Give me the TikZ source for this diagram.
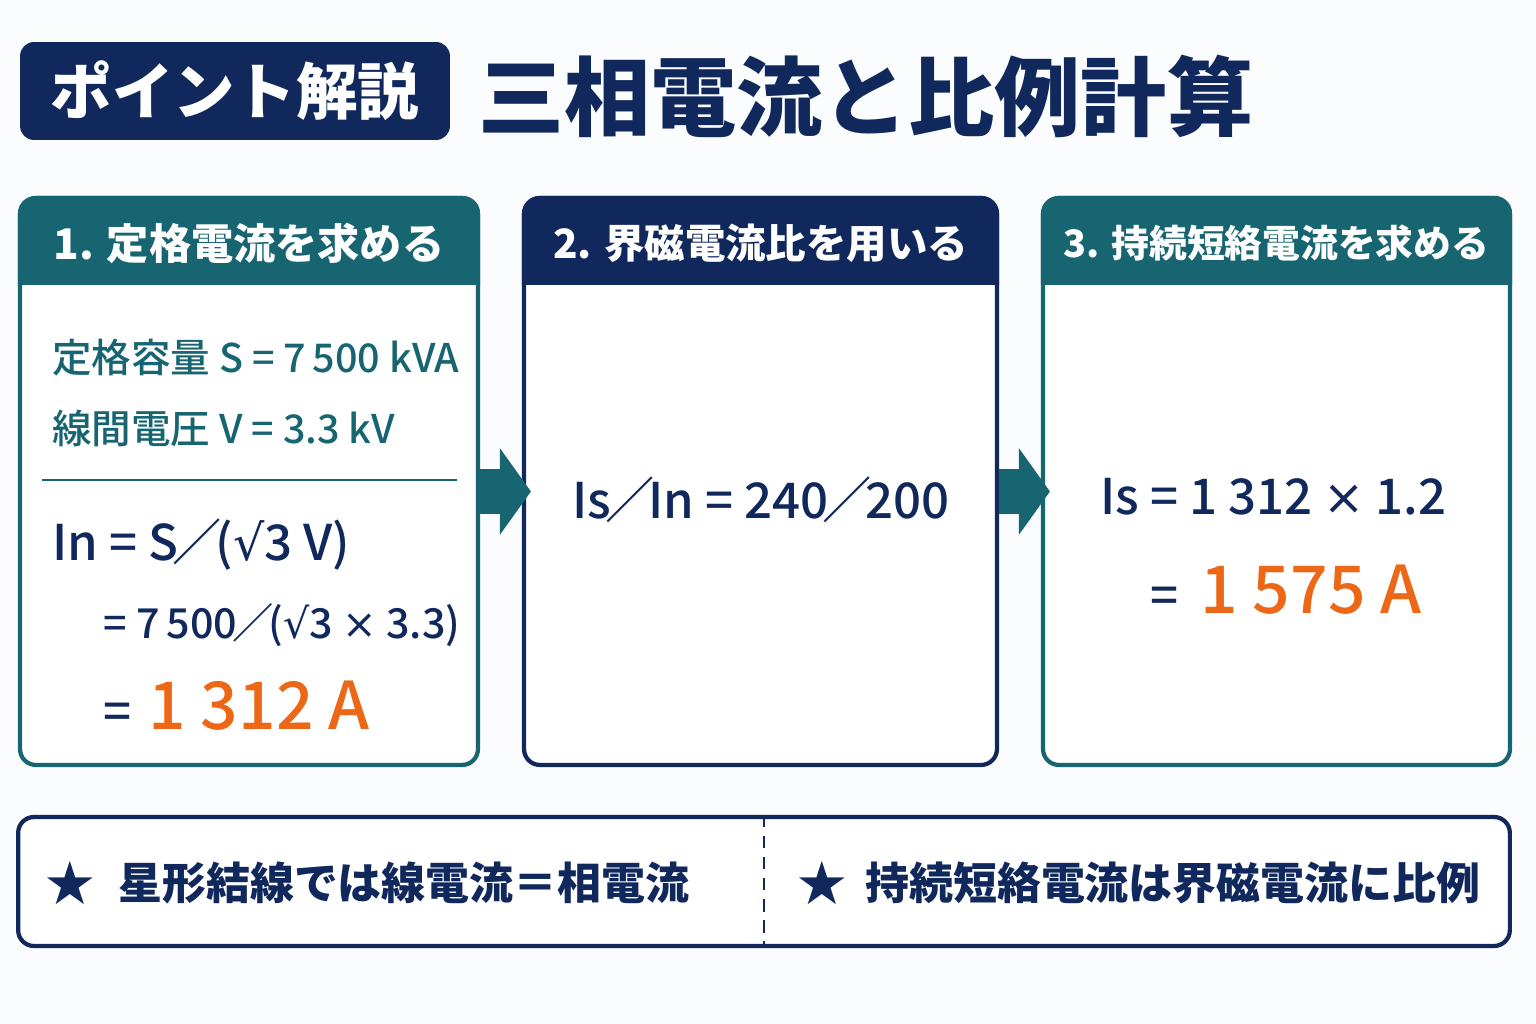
\documentclass[tikz,border=0pt]{standalone}
\usepackage{fontspec}
\setmainfont{Noto Sans CJK JP}
\newfontfamily\medfont{Noto Sans CJK JP Medium}
\newfontfamily\symfont{DejaVu Sans}
\usetikzlibrary{arrows.meta, positioning, calc}
\definecolor{navyblue}{RGB}{16,40,92}
\definecolor{tealblue}{RGB}{22,101,112}
\definecolor{resultorange}{RGB}{236,104,22}
\definecolor{pagebg}{RGB}{251,252,253}

\tikzset{
  stepbox/.style={rectangle, rounded corners=9pt, line width=2.4pt, fill=white, minimum height=11.34cm},
  headtext/.style={text=white, inner sep=0pt, font=\bfseries\fontsize{#1}{28}\selectfont},
  given/.style={anchor=west, inner sep=0pt, text=tealblue, font=\medfont\fontsize{22.5}{26}\selectfont},
  formula/.style={anchor=west, inner sep=0pt, text=navyblue, font=\medfont\fontsize{#1}{34}\selectfont},
  formula/.default=28,
  flowarrow/.style={tealblue, line width=0.9cm, -{Triangle[length=0.62cm, width=1.7cm]}, shorten >=-0.18cm},
  notetext/.style={anchor=west, inner sep=0pt, text=navyblue, font=\bfseries\fontsize{25}{28}\selectfont},
  starmark/.style={inner sep=0pt, text=navyblue, font=\symfont\fontsize{34}{36}\selectfont}
}
\newcommand{\resultval}[1]{{\color{resultorange}\fontsize{37.5}{42}\selectfont #1}}
\newcommand{\fslash}{\hspace{-0.12em}／\hspace{-0.12em}}
\newcommand{\rootmark}{{\symfont √}}
\newcommand{\crossmark}{{\symfont ×}}

\begin{document}
\begin{tikzpicture}[x=0.02cm, y=-0.02cm]
  \useasboundingbox (0,0) rectangle (1536,1024);
  \fill[pagebg] (0,0) rectangle (1536,1024);

  % Title
  \node[fill=navyblue, rounded corners=8pt, minimum width=8.6cm, minimum height=1.96cm,
    text=white, font=\bfseries\fontsize{35}{38}\selectfont] (badge) at (235,91) {ポイント解説};
  \node[anchor=west, inner sep=0pt, text=navyblue, font=\bfseries\fontsize{49}{52}\selectfont]
    (title) at (478,96) {三相電流と比例計算};

  % Step boxes
  \node[stepbox, draw=tealblue, minimum width=9.16cm] (rated) at (249,481.5) {};
  \node[stepbox, draw=navyblue, minimum width=9.46cm] (ratio) at (760.5,481.5) {};
  \node[stepbox, draw=tealblue, minimum width=9.34cm] (short) at (1276.5,481.5) {};

  % Header bands
  \foreach \b/\c in {rated/tealblue, ratio/navyblue, short/tealblue}
    \fill[\c] ([yshift=-1.78cm]\b.north west) [rounded corners=10pt] -- (\b.north west)
      -- (\b.north east) [sharp corners] -- ([yshift=-1.78cm]\b.north east) -- cycle;
  \node[headtext=24] (rated head) at ([yshift=-0.95cm]rated.north) {1. 定格電流を求める};
  \node[headtext=23] (ratio head) at ([yshift=-0.95cm]ratio.north) {2. 界磁電流比を用いる};
  \node[headtext=21.5] (short head) at ([yshift=-0.95cm]short.north) {3. 持続短絡電流を求める};

  % Step 1: rated current
  \node[given] (capacity) at (52,358) {定格容量 S = 7\,500 kVA};
  \node[given] (voltage) at (52,428) {線間電圧 V = 3.3 kV};
  \draw[tealblue, line width=1.6pt] (42,480) -- (457,480);
  \node[formula] (in def) at (52,545) {In = S\fslash(\rootmark 3 V)};
  \node[formula=23.5] (in num) at (103,625) {= 7\,500\fslash(\rootmark 3 \crossmark\ 3.3)};
  \node[formula] (in val) at (103,706) {=\hspace{0.35em}\resultval{1 312 A}};

  % Step 2: field current ratio
  \node[formula, anchor=center] (ratio eq) at (761,500) {Is\fslash In = 240\fslash 200};

  % Step 3: sustained short-circuit current
  \node[formula] (is def) at (1100,497) {Is = 1 312 \crossmark\ 1.2};
  \node[formula] (is val) at (1150,590) {=\hspace{0.45em}\resultval{1 575 A}};

  % Flow arrows
  \draw[flowarrow] ([yshift=-0.2cm]rated.east) -- ([yshift=-0.2cm]ratio.west);
  \draw[flowarrow] ([yshift=-0.2cm]ratio.east) -- ([yshift=-0.2cm]short.west);

  % Notes
  \node[draw=navyblue, line width=2.4pt, rounded corners=9pt, fill=white,
    minimum width=29.84cm, minimum height=2.58cm] (notes) at (764,881.5) {};
  \draw[navyblue, line width=1.5pt, dash pattern=on 7pt off 5pt] (notes.north) -- (notes.south);
  \node[starmark] (star left) at (70,883) {★};
  \node[notetext] (note left) at (118,883) {星形結線では線電流＝相電流};
  \node[starmark] (star right) at (822,883) {★};
  \node[notetext] (note right) at (865,883) {持続短絡電流は界磁電流に比例};
\end{tikzpicture}
\end{document}
